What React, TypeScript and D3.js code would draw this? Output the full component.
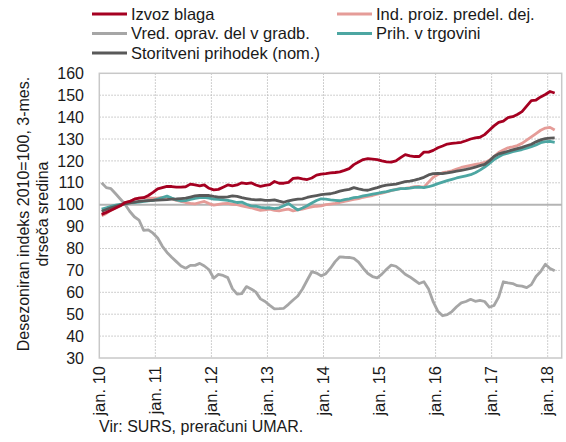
import React from "react";
import * as d3 from "d3";

// monthly values, jan 2010 - feb 2018
const izvozBlaga = [
  95.6, 96.5, 97.5, 98.5, 99.5, 101, 101.5, 102.5, 103, 103.2, 104.2, 105.6,
  107.2, 107.8, 108.4, 108.3, 108, 108, 108.2, 109.4, 109, 108.6, 109, 107.5,
  106.8, 107, 108, 109, 108.6, 109, 110, 109.6, 110, 109, 108.4, 108.8,
  109.2, 110.6, 109.8, 109.8, 110.2, 112, 112.2, 111.8, 111.5, 112.2, 113.5, 114,
  114.2, 114.5, 114.7, 115, 115.7, 116.5, 118.3, 119.5, 120.6, 121, 120.8, 120.6,
  120, 119.6, 119.4, 120, 121.5, 122.9, 122.3, 122, 122, 124, 124, 124.8,
  126, 126.8, 127.7, 128, 128.2, 128.5, 129.2, 130, 130.5, 130.8, 132, 134,
  136, 137.6, 138.2, 139.8, 140.2, 141.2, 142.5, 145, 147.5, 147.8, 149.2, 150.3,
  151.7, 151,
];
const indProizvodnja = [
  95, 96, 97.5, 98.5, 99.5, 100.8, 101.5, 102.5, 103, 103.2, 103, 103,
  103, 103.3, 103.2, 102.8, 102, 101.5, 101, 100.6, 100.4, 101, 101.5, 100.5,
  99.8, 100.2, 100.5, 100.6, 100.2, 100, 99.5, 99, 98.6, 98, 97.4, 97.6,
  98, 97.4, 97.2, 97.6, 98, 97.2, 97.6, 98, 98.5, 99, 99.3, 99.5,
  100, 100.3, 100.6, 101, 101.5, 102, 102.4, 102.8, 103.4, 103.8, 104.2, 104.8,
  105.3, 105.8, 106.4, 107, 107.3, 107.5, 107.8, 108.2, 108.3, 108, 110.3, 112.5,
  113.8, 114.6, 115, 115.5, 116.3, 117, 117.5, 118, 118.4, 118.8, 119.3, 120.3,
  122, 123.8, 125, 126, 126.4, 127, 128, 129.5, 131, 132.5, 134, 135,
  135.3, 134.1,
];
const gradbenistvo = [
  110, 107.8, 107.3, 105, 102.6, 100.2, 97, 94.5, 93, 88.3, 88.5, 87,
  84.8, 81, 78.2, 76, 74, 72, 71, 72.3, 72.3, 73.2, 72, 70.3,
  66.4, 68.2, 67.7, 66.7, 61.7, 59.2, 59.4, 62.6, 61.5, 60.2, 57, 55.8,
  54, 52.4, 52.5, 52.7, 54.5, 56.5, 58.3, 61.5, 65.5, 69.4, 68.8, 67.5,
  68.5, 71, 74, 76.2, 76, 75.9, 75.5, 73.8, 71, 68.6, 67.2, 66.6,
  68.3, 70.5, 72.4, 71.9, 70.2, 68.2, 67, 65.5, 64, 64.8, 61.5, 55.6,
  51.3, 49.3, 49.8, 51.2, 53.4, 55.2, 55.8, 56.8, 55.9, 56.3, 55.8, 53.2,
  54, 57.8, 64.8, 64.3, 64, 63, 62.8, 62.1, 63.5, 67.2, 69.5, 72.8,
  70.9, 69.8,
];
const trgovina = [
  98, 98.6, 99.2, 99.8, 100.2, 100.5, 100.8, 101, 101.2, 101.5, 101.8, 102,
  102.6, 103.2, 103.9, 103, 102.2, 101.8, 101.9, 102.4, 102.9, 103.2, 103.4, 103,
  102.5, 102.4, 102.2, 102, 101.5, 101, 101.2, 100.2, 99.5, 99.3, 98.8, 98.5,
  98.6, 98.2, 98.6, 99.5, 100.6, 99, 97.6, 98.5, 99.5, 100.8, 101.9, 102.7,
  102.5, 102.2, 102, 101.8, 102.3, 102.7, 103.2, 103.5, 104, 104.4, 104.8, 105.2,
  105.6, 106, 106.5, 106.9, 107.3, 107.4, 107.6, 107.9, 108, 107.8, 108.2, 108.8,
  109.6, 110.3, 111, 111.6, 112.2, 112.7, 113.2, 113.7, 114.6, 115.8, 117.2, 118.8,
  120.6, 121.9, 123, 123.5, 124.2, 124.7, 125.2, 125.8, 126.5, 127.3, 128.3, 128.8,
  128.9, 128.5,
];
const storitve = [
  97, 97.8, 98.6, 99.3, 99.9, 100.4, 100.8, 101.2, 101.5, 101.7, 101.9, 102,
  102.1, 102.2, 102.3, 102.5, 102.6, 102.8, 103, 103.5, 104, 104.2, 104.3, 104.2,
  103.8, 103.5, 103.4, 103.6, 104, 103.8, 103.2, 102.8, 102.4, 102.2, 102.3, 102,
  102, 102.2, 101.6, 101.1, 101.8, 102.2, 102.5, 102.7, 103.3, 103.8, 104.2, 104.6,
  104.8, 105, 105.5, 106.2, 106.6, 107, 107.8, 107.2, 106.8, 106.6, 107.2, 107.8,
  108.5, 108.9, 109.2, 109.4, 110, 110.5, 110.8, 111.2, 111.8, 112.5, 113.6, 114.2,
  114.3, 114.2, 114.5, 114.9, 115.3, 115.7, 116.1, 116.6, 117.2, 117.8, 118.4, 120,
  122, 123.2, 123.8, 124.4, 125, 125.6, 126.2, 126.9, 127.6, 128.7, 129.6, 130.2,
  130.4, 130.5,
];

const tickLabels = ["jan. 10", "jan. 11", "jan. 12", "jan. 13", "jan. 14", "jan. 15", "jan. 16", "jan. 17", "jan. 18"];
const yTicks = [30, 40, 50, 60, 70, 80, 90, 100, 110, 120, 130, 140, 150, 160];

const series = [
  { name: "Vred. oprav. del v gradb.", values: gradbenistvo, color: "#a6a6a6" },
  { name: "Ind. proiz. predel. dej.", values: indProizvodnja, color: "#e59c98" },
  { name: "Prih. v trgovini", values: trgovina, color: "#4da6a2" },
  { name: "Storitveni prihodek (nom.)", values: storitve, color: "#595959" },
  { name: "Izvoz blaga", values: izvozBlaga, color: "#a50021" },
];

const legendItems = [
  { name: "Izvoz blaga", color: "#a50021", col: 0, row: 0 },
  { name: "Ind. proiz. predel. dej.", color: "#e59c98", col: 1, row: 0 },
  { name: "Vred. oprav. del v gradb.", color: "#a6a6a6", col: 0, row: 1 },
  { name: "Prih. v trgovini", color: "#4da6a2", col: 1, row: 1 },
  { name: "Storitveni prihodek (nom.)", color: "#595959", col: 0, row: 2 },
];

const FONT = "'Liberation Sans', Arial, sans-serif";

export default function App() {
  const W = 566, H = 442;
  const left = 99.3, right = 561.7, top = 73.3, bottom = 358;

  const x = d3.scaleLinear().domain([0, 99]).range([left, right]);
  const y = d3.scaleLinear().domain([30, 160]).range([bottom, top]);

  const line = d3.line<number>()
    .x((d, i) => x(i + 0.5))
    .y((d) => y(d));

  const yearTicks = tickLabels.map((_, i) => i * 12);

  return (
    <div style={{ position: "fixed", left: 0, top: 0 }}>
      <svg width={W} height={H} style={{ display: "block", background: "#fff" }} fontFamily={FONT}>
        {/* grid */}
        {yTicks.filter((t) => t !== 100 && t !== 30 && t !== 160).map((t) => (
          <line key={"h" + t} x1={left} x2={right} y1={y(t)} y2={y(t)}
            stroke="#bfbfbf" strokeWidth={1} strokeDasharray="1.5,1.5" />
        ))}
        {yearTicks.filter((m) => m > 0).map((m) => (
          <line key={"v" + m} x1={x(m)} x2={x(m)} y1={top} y2={bottom}
            stroke="#bfbfbf" strokeWidth={1} strokeDasharray="1.5,1.5" />
        ))}
        <rect x={left} y={top} width={right - left} height={bottom - top}
          fill="none" stroke="#c8c8c8" strokeWidth={1.5} />
        <line x1={left} x2={right} y1={y(100)} y2={y(100)} stroke="#b4b4b4" strokeWidth={2} />

        {/* lines */}
        {series.map((s) => (
          <path key={s.name} d={line(s.values) || ""} fill="none" stroke={s.color}
            strokeWidth={2.8} strokeLinejoin="round" />
        ))}

        {/* y axis labels */}
        {yTicks.map((t) => (
          <text key={"yt" + t} x={84} y={y(t)} dy="0.35em" textAnchor="end" fontSize={16} fill="#1a1a1a">
            {t}
          </text>
        ))}

        {/* x axis labels */}
        {yearTicks.map((m, i) => (
          <text key={"xt" + m} transform={`translate(${x(m)},${bottom + 8}) rotate(-90)`}
            dy="0.35em" textAnchor="end" fontSize={16.5} fill="#1a1a1a">
            {tickLabels[i]}
          </text>
        ))}

        {/* y axis title */}
        <text transform={`translate(23,214) rotate(-90)`} textAnchor="middle" dy="0.35em" fontSize={16} fill="#1a1a1a">
          Desezoniran indeks 2010=100, 3-mes.
        </text>
        <text transform={`translate(42,214) rotate(-90)`} textAnchor="middle" dy="0.35em" fontSize={16} fill="#1a1a1a">
          drseča sredina
        </text>

        {/* legend */}
        {legendItems.map((it) => {
          const lx = it.col === 0 ? 92 : 337;
          const ly = 14 + it.row * 19.5;
          return (
            <g key={it.name}>
              <line x1={lx} x2={lx + 35} y1={ly} y2={ly} stroke={it.color} strokeWidth={2.8} />
              <text x={lx + 39} y={ly} dy="0.35em" fontSize={16.5} fill="#1a1a1a">{it.name}</text>
            </g>
          );
        })}

        {/* source */}
        <text x={99} y={432} fontSize={16} fill="#1a1a1a">Vir: SURS, preračuni UMAR.</text>
      </svg>
    </div>
  );
}
